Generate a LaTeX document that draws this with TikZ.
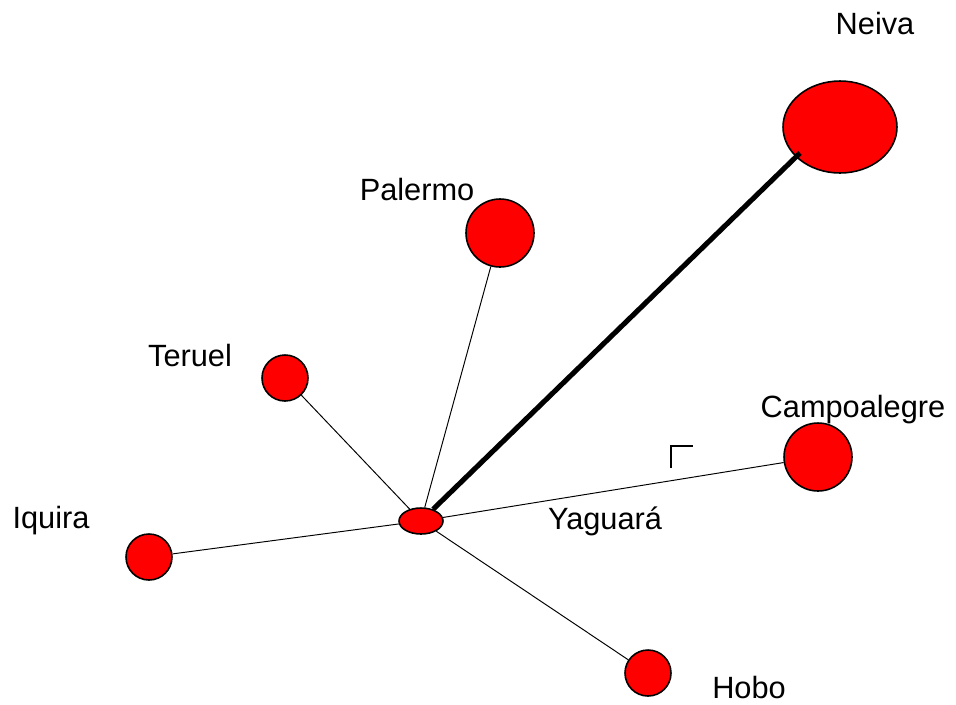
\documentclass[tikz,border=0pt]{standalone}
\usepackage{fontspec}
\setmainfont{Liberation Sans}
\usepackage{tikz}
\usetikzlibrary{calc, positioning, shapes.geometric}
\definecolor{townR}{HTML}{FF0000}

\begin{document}
\begin{tikzpicture}[x = 0.02cm, y = -0.02cm]
  \def\smallSize{0.92cm}
  \def\largeSize{1.36cm}
  \tikzset{
    town/.style = {circle, draw = black, line width = 0.9pt, fill = townR, inner sep = 0pt},
    townlabel/.style = {font = \fontsize{17.5}{21}\selectfont, inner sep = 0pt},
    road/.style = {line width = 0.55pt},
  }
  \useasboundingbox (0, 0) rectangle (956, 704);

  % ------------------------
  % town positions
  % ------------------------

  \coordinate (Y) at (421, 521);
  \coordinate (N) at (840, 127);
  \coordinate (P) at (500, 233);
  \coordinate (T) at (285, 378);
  \coordinate (C) at (818, 457);
  \coordinate (I) at (149, 557);
  \coordinate (H) at (648, 673);

  % ------------------------
  % towns
  % ------------------------

  \node[town, ellipse, minimum width = 2.28cm, minimum height = 1.84cm] (neiva) at (N) {};
  \node[town, minimum size = \largeSize] (palermo) at (P) {};
  \node[town, minimum size = \smallSize] (teruel) at (T) {};
  \node[town, minimum size = \largeSize] (campoalegre) at (C) {};
  \node[town, minimum size = \smallSize] (iquira) at (I) {};
  \node[town, minimum size = \smallSize] (hobo) at (H) {};
  \node[town, ellipse, minimum width = 0.88cm, minimum height = 0.52cm] (yaguara) at (Y) {};

  % labels
  \node[townlabel] (neivaL) at (875, 24) {Neiva};
  \node[townlabel] (palermoL) at (417, 190) {Palermo};
  \node[townlabel] (teruelL) at (190, 355) {Teruel};
  \node[townlabel] (campoalegreL) at (853, 410) {Campoalegre};
  \node[townlabel] (iquiraL) at (51, 521) {Iquira};
  \node[townlabel] (yaguaraL) at (605, 521) {Yaguará};
  \node[townlabel] (hoboL) at (749, 687) {Hobo};

  % ------------------------
  % roads
  % ------------------------

  \draw[road] (yaguara) to (palermo);
  \draw[road] (yaguara) to (teruel);
  \draw[road] (yaguara) to (campoalegre);
  \draw[road] (yaguara) to (iquira);
  \draw[road] (yaguara) to (hobo);

  \coordinate (neivaEnd) at (800, 153);
  \draw[line width = 2.9pt] (yaguara) to (neivaEnd);

  % corner mark
  \draw[line width = 1.2pt] (671, 468) to (671, 446) to (693, 446);
\end{tikzpicture}
\end{document}
